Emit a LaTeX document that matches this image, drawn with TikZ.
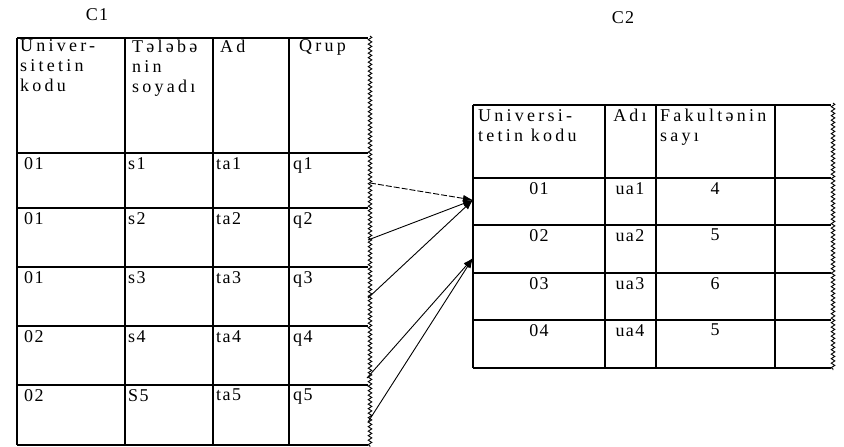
\documentclass[tikz,border=0pt]{standalone}
\usepackage{fontspec}
\setmainfont{Liberation Serif}[LetterSpace=8]
\newfontfamily\widefont{Liberation Serif}[LetterSpace=18]
\usetikzlibrary{arrows.meta,positioning,calc,decorations.pathmorphing}

\begin{document}
\begin{tikzpicture}[x=1pt, y=-1pt,
  grid/.style={line width=1.4pt},
  wavy/.style={line width=0.9pt, decorate, decoration={snake, amplitude=1.8pt, segment length=4.5pt}},
  head/.style={anchor=north west, inner sep=0pt, align=left, font=\fontsize{18}{20}\widefont},
  cell/.style={anchor=north west, inner sep=0pt, font=\fontsize{18}{20}\selectfont},
  ccell/.style={anchor=north, inner sep=0pt, font=\fontsize{18}{20}\selectfont},
  arr/.style={-{Latex[length=10pt, width=7pt]}, line width=0.9pt},
  ttl/.style={font=\fontsize{18}{18}\selectfont}]
\useasboundingbox (0,0) rectangle (844,447);

% C1
\node[ttl] (C1) at (97,15) {C1};
\foreach \y in {38,153,208,267,326,385,445}
  \draw[grid] (17,\y) -- (368,\y);
\foreach \x in {17,125,213,289}
  \draw[grid] (\x,38) -- (\x,445);
\draw[wavy] (370,36) -- (370,447);
\node[head] (h11) at (20,39.5) {Univer-\\sitetin\\kodu};
\node[head] (h12) at (132,39.5) {Tələbə\\nin\\soyadı};
\node[head] (h13) at (220,39.5) {Ad};
\node[head] (h14) at (299,39.5) {Qrup};
\foreach \k/\y/\u/\s/\t/\q in {1/153/01/s1/ta1/q1, 2/208/01/s2/ta2/q2,
    3/267/01/s3/ta3/q3, 4/326/02/s4/ta4/q4, 5/385/02/S5/ta5/q5} {
  \node[cell] (u\k) at (24,\y+4) {\u};
  \node[cell] (s\k) at (128,\y+4) {\s};
  \node[cell] (t\k) at (216,\y+4) {\t};
  \node[cell] (q\k) at (293,\y+4) {\q};
}

% C2
\node[ttl] (C2) at (623,18) {C2};
\foreach \y in {105,178,225,273,320,368}
  \draw[grid] (473,\y) -- (831,\y);
\foreach \x in {473,605,656,775}
  \draw[grid] (\x,105) -- (\x,368);
\draw[wavy] (833,103) -- (833,370);
\node[head] (h21) at (478,109) {Universi-\\tetin kodu};
\node[head, anchor=north] (h22) at (630,109) {Adı};
\node[head] (h23) at (660,109) {Fakultənin\\sayı};
\foreach \k/\y/\u/\a/\f in {1/178/01/ua1/4, 2/225/02/ua2/5,
    3/273/03/ua3/6, 4/320/04/ua4/5} {
  \node[ccell] (v\k) at (539,\y+4) {\u};
  \node[ccell] (a\k) at (630,\y+4) {\a};
  \node[ccell] (f\k) at (715,\y+4) {\f};
}

% links
\coordinate (p1) at (370,183);
\coordinate (p2) at (368,240);
\coordinate (p3) at (368,298);
\coordinate (p4) at (367,378);
\coordinate (p5) at (368,422);
\coordinate (r1) at (473,200);
\coordinate (r2) at (473,258);
\draw[arr, dash pattern=on 6pt off 2pt] (p1) -- (r1);
\draw[arr] (p2) -- (r1);
\draw[arr] (p3) -- (r1);
\draw[arr] (p4) -- (r2);
\draw[arr] (p5) -- (r2);
\end{tikzpicture}
\end{document}
